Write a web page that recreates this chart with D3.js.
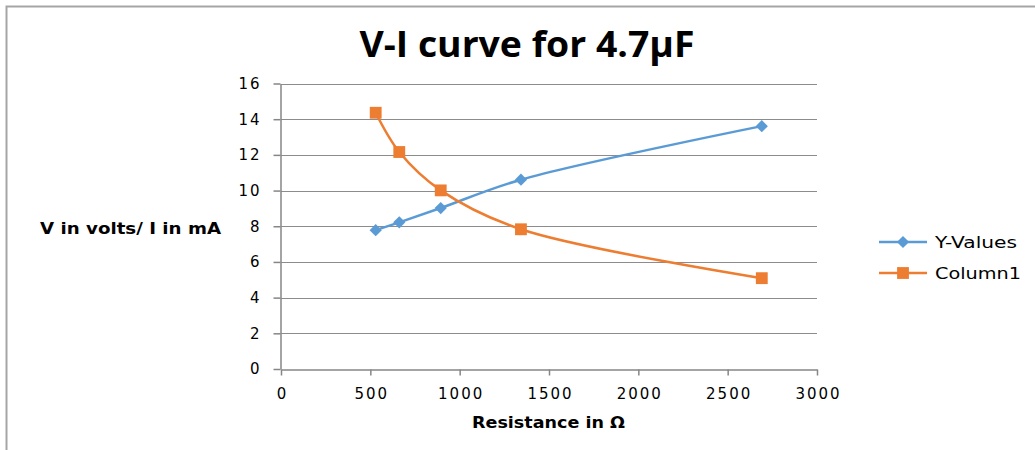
<!DOCTYPE html>
<html lang="en">
<head>
    <meta charset="UTF-8">
    <title>V-I curve for 4.7µF</title>
    <style>
        body {
            margin: 0;
            background: #fff;
        }
        svg text {
            font-family: "DejaVu Sans", Verdana, sans-serif;
            fill: #000;
        }
        .grid line {
            stroke: #8c8c8c;
            stroke-width: 1;
        }
    </style>
</head>
<body>
    <div id="chart"></div>
    <script src="https://d3js.org/d3.v7.min.js"></script>
    <script>
        // Data
        const resistance = [530, 662, 894, 1343, 2691];
        const yValues = [7.78, 8.22, 9.02, 10.61, 13.61];
        const column1 = [14.36, 12.16, 10.01, 7.83, 5.09];
        const xTicks = [0, 500, 1000, 1500, 2000, 2500, 3000];
        const yTicks = [0, 2, 4, 6, 8, 10, 12, 14, 16];
        const seriesNames = ["Y-Values", "Column1"];
        const seriesColors = ["#5B9BD5", "#ED7D31"];

        const width = 1035;
        const height = 450;
        const plot = { left: 281, right: 817, top: 83.5, bottom: 369 };

        const svg = d3.select("#chart").append("svg")
            .attr("width", width)
            .attr("height", height);

        // outer frame (only top and left edges visible)
        svg.append("path")
            .attr("d", `M6.5,${height} V6.5 H${width}`)
            .attr("fill", "none")
            .attr("stroke", "#a6a6a6")
            .attr("stroke-width", 2);

        const x = d3.scaleLinear().domain([0, 3000]).range([plot.left, plot.right]);
        const y = d3.scaleLinear().domain([0, 16]).range([plot.bottom, plot.top]);

        // horizontal gridlines
        svg.append("g")
            .attr("class", "grid")
            .selectAll("line")
            .data(yTicks.filter(d => d > 0))
            .join("line")
            .attr("x1", plot.left)
            .attr("x2", plot.right)
            .attr("y1", d => Math.round(y(d)) + 0.5)
            .attr("y2", d => Math.round(y(d)) + 0.5);

        // axes
        const xAxis = svg.append("g")
            .attr("transform", `translate(0,${Math.round(plot.bottom) + 0.5})`)
            .call(d3.axisBottom(x).tickValues(xTicks).tickFormat(d3.format("d"))
                .tickSize(6).tickSizeOuter(0).tickPadding(9));
        const yAxis = svg.append("g")
            .attr("transform", `translate(${plot.left - 0.5},0)`)
            .call(d3.axisLeft(y).tickValues(yTicks).tickSize(7).tickSizeOuter(0).tickPadding(14));

        [xAxis, yAxis].forEach(a => {
            a.selectAll("path, line").attr("stroke", "#868686").attr("stroke-width", 1.5);
            a.selectAll("text")
                .attr("font-family", "DejaVu Sans, sans-serif")
                .style("font-size", "15px")
                .style("letter-spacing", "2px")
                .attr("fill", "#000");
        });
        xAxis.selectAll("text").attr("dy", "0.95em").attr("dx", "1px");
        yAxis.selectAll("text").attr("dx", "2px");

        // series lines
        const line = d3.line()
            .x(d => x(d[0]))
            .y(d => y(d[1]))
            .curve(d3.curveCatmullRom.alpha(0.5));

        const series = [yValues, column1].map(vals => resistance.map((r, i) => [r, vals[i]]));

        series.forEach((pts, i) => {
            svg.append("path")
                .datum(pts)
                .attr("d", line)
                .attr("fill", "none")
                .attr("stroke", seriesColors[i])
                .attr("stroke-width", 2.5);
        });

        const diamond = d3.symbol().type(d3.symbolDiamond2).size(95);
        const square = d3.symbol().type(d3.symbolSquare).size(140);

        svg.append("g").selectAll("path")
            .data(series[0])
            .join("path")
            .attr("transform", d => `translate(${x(d[0])},${y(d[1])})`)
            .attr("d", diamond)
            .attr("fill", seriesColors[0]);

        svg.append("g").selectAll("path")
            .data(series[1])
            .join("path")
            .attr("transform", d => `translate(${x(d[0])},${y(d[1])})`)
            .attr("d", square)
            .attr("fill", seriesColors[1]);

        // title
        svg.append("text")
            .attr("x", 527)
            .attr("y", 57)
            .attr("text-anchor", "middle")
            .style("font-family", "Open Sans, sans-serif")
            .style("font-size", "36px")
            .style("font-weight", "bold")
            .attr("textLength", 335)
            .attr("lengthAdjust", "spacingAndGlyphs")
            .text("V-I curve for 4.7µF");

        // axis titles
        svg.append("text")
            .attr("x", 40)
            .attr("y", 234)
            .style("font-size", "15px")
            .style("font-weight", "bold")
            .attr("textLength", 181)
            .attr("lengthAdjust", "spacingAndGlyphs")
            .text("V in volts/ I in mA");

        svg.append("text")
            .attr("x", 472)
            .attr("y", 428)
            .style("font-size", "15px")
            .style("font-weight", "bold")
            .attr("textLength", 153)
            .attr("lengthAdjust", "spacingAndGlyphs")
            .text("Resistance  in Ω");

        // legend
        const legend = svg.append("g").attr("transform", "translate(879,242)");
        seriesNames.forEach((name, i) => {
            const g = legend.append("g").attr("transform", `translate(0,${i * 31})`);
            g.append("line")
                .attr("x1", 0).attr("x2", 48)
                .attr("stroke", seriesColors[i])
                .attr("stroke-width", 2.5);
            g.append("path")
                .attr("transform", "translate(24,0)")
                .attr("d", i === 0 ? diamond : square)
                .attr("fill", seriesColors[i]);
            g.append("text")
                .attr("x", 56)
                .attr("dy", "0.35em")
                .style("font-size", "16px")
                .attr("textLength", i === 0 ? 82 : 86)
                .attr("lengthAdjust", "spacingAndGlyphs")
                .text(name);
        });
    </script>
</body>
</html>
